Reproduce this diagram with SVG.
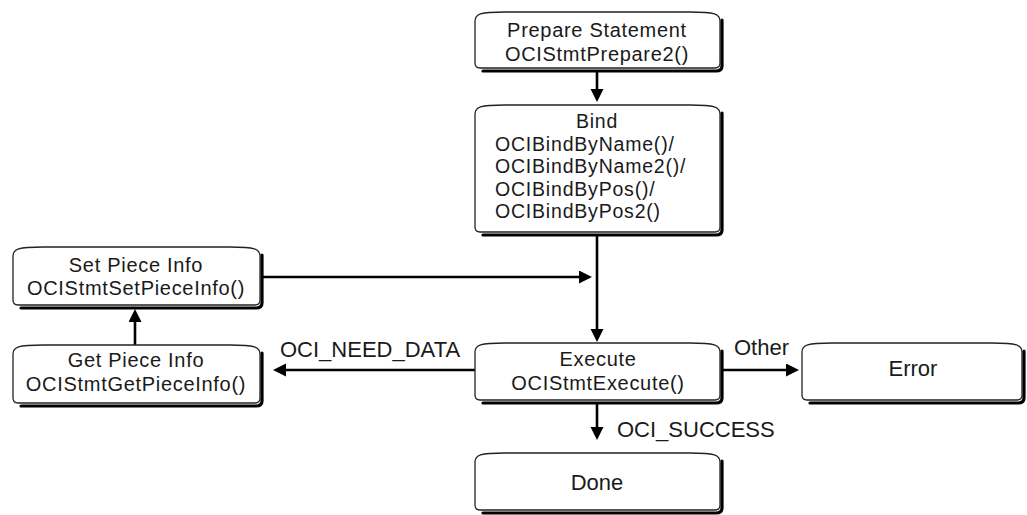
<svg xmlns="http://www.w3.org/2000/svg" width="1027" height="515" viewBox="0 0 1027 515">
<style>
.box{fill:#fff;stroke:#222;stroke-width:1.3}
.sh{fill:none;stroke:#000;stroke-width:3.2;stroke-linecap:round}
text{font-family:"Liberation Sans",Arial,sans-serif;font-size:22px;fill:#1a1a1a}
.n{font-size:20px;letter-spacing:0.7px}
.b{font-size:19.5px;letter-spacing:0.8px}
.c{text-anchor:middle}
.ln{stroke:#000;stroke-width:2.6;fill:none}
</style>
<defs>
<marker id="ah" markerUnits="userSpaceOnUse" markerWidth="14" markerHeight="14" refX="2" refY="6.5" orient="auto">
<path d="M0,0 L13,6.5 L0,13 z" fill="#000"/>
</marker>
</defs>
<g id="connectors">
<line class="ln" x1="597" y1="72" x2="597" y2="91" marker-end="url(#ah)"/>
<line class="ln" x1="597" y1="236" x2="597" y2="331" marker-end="url(#ah)"/>
<line class="ln" x1="262" y1="277" x2="581" y2="277" marker-end="url(#ah)"/>
<line class="ln" x1="135" y1="345" x2="135" y2="320" marker-end="url(#ah)"/>
<line class="ln" x1="475" y1="370" x2="284" y2="370" marker-end="url(#ah)"/>
<line class="ln" x1="722" y1="370" x2="788" y2="370" marker-end="url(#ah)"/>
<line class="ln" x1="597" y1="404" x2="597" y2="429" marker-end="url(#ah)"/>
<text x="280" y="357">OCI_NEED_DATA</text>
<text x="734" y="355">Other</text>
<text x="617" y="437">OCI_SUCCESS</text>
</g>
<g id="prepare">
<path class="sh" d="M722,20 L722,66 Q722,71 716,71 L483,71"/>
<path class="box" d="M475,21 C475,14 480,12 505,12 L690,12 C715,12 720,14 720,21 L720,63 Q720,68 715,68 L480,68 Q475,68 475,63 Z"/>
<text class="c n" x="597" y="37">Prepare Statement</text>
<text class="c n" x="597" y="60.5">OCIStmtPrepare2()</text>
</g>
<g id="bind">
<path class="sh" d="M722,113 L722,230 Q722,235 716,235 L483,235"/>
<path class="box" d="M475,114 C475,107 480,105 505,105 L690,105 C715,105 720,107 720,114 L720,227 Q720,232 715,232 L480,232 Q475,232 475,227 Z"/>
<text class="c b" x="597" y="128">Bind</text>
<text class="b" x="495" y="150.5">OCIBindByName()/</text>
<text class="b" x="495" y="173">OCIBindByName2()/</text>
<text class="b" x="495" y="195.5">OCIBindByPos()/</text>
<text class="b" x="495" y="218">OCIBindByPos2()</text>
</g>
<g id="setpiece">
<path class="sh" d="M262,255 L262,303 Q262,308 256,308 L21,308"/>
<path class="box" d="M13,256 C13,249 18,247 43,247 L230,247 C255,247 260,249 260,256 L260,300 Q260,305 255,305 L18,305 Q13,305 13,300 Z"/>
<text class="c n" x="136" y="271.5">Set Piece Info</text>
<text class="c n" x="136" y="295">OCIStmtSetPieceInfo()</text>
</g>
<g id="getpiece">
<path class="sh" d="M262,353 L262,401 Q262,406 256,406 L21,406"/>
<path class="box" d="M13,354 C13,347 18,345 43,345 L230,345 C255,345 260,347 260,354 L260,398 Q260,403 255,403 L18,403 Q13,403 13,398 Z"/>
<text class="c n" x="136" y="367">Get Piece Info</text>
<text class="c n" x="136" y="390.5">OCIStmtGetPieceInfo()</text>
</g>
<g id="execute">
<path class="sh" d="M722,351 L722,398 Q722,403 716,403 L483,403"/>
<path class="box" d="M475,352 C475,345 480,343 505,343 L690,343 C715,343 720,345 720,352 L720,395 Q720,400 715,400 L480,400 Q475,400 475,395 Z"/>
<text class="c n" x="598" y="366">Execute</text>
<text class="c n" x="598" y="389.5">OCIStmtExecute()</text>
</g>
<g id="error">
<path class="sh" d="M1024,351 L1024,398 Q1024,403 1018,403 L810,403"/>
<path class="box" d="M802,352 C802,345 807,343 832,343 L992,343 C1017,343 1022,345 1022,352 L1022,395 Q1022,400 1017,400 L807,400 Q802,400 802,395 Z"/>
<text class="c" x="913" y="376">Error</text>
</g>
<g id="done">
<path class="sh" d="M722,461 L722,508 Q722,513 716,513 L483,513"/>
<path class="box" d="M475,462 C475,455 480,453 505,453 L690,453 C715,453 720,455 720,462 L720,505 Q720,510 715,510 L480,510 Q475,510 475,505 Z"/>
<text class="c" x="597" y="490">Done</text>
</g>
</svg>
